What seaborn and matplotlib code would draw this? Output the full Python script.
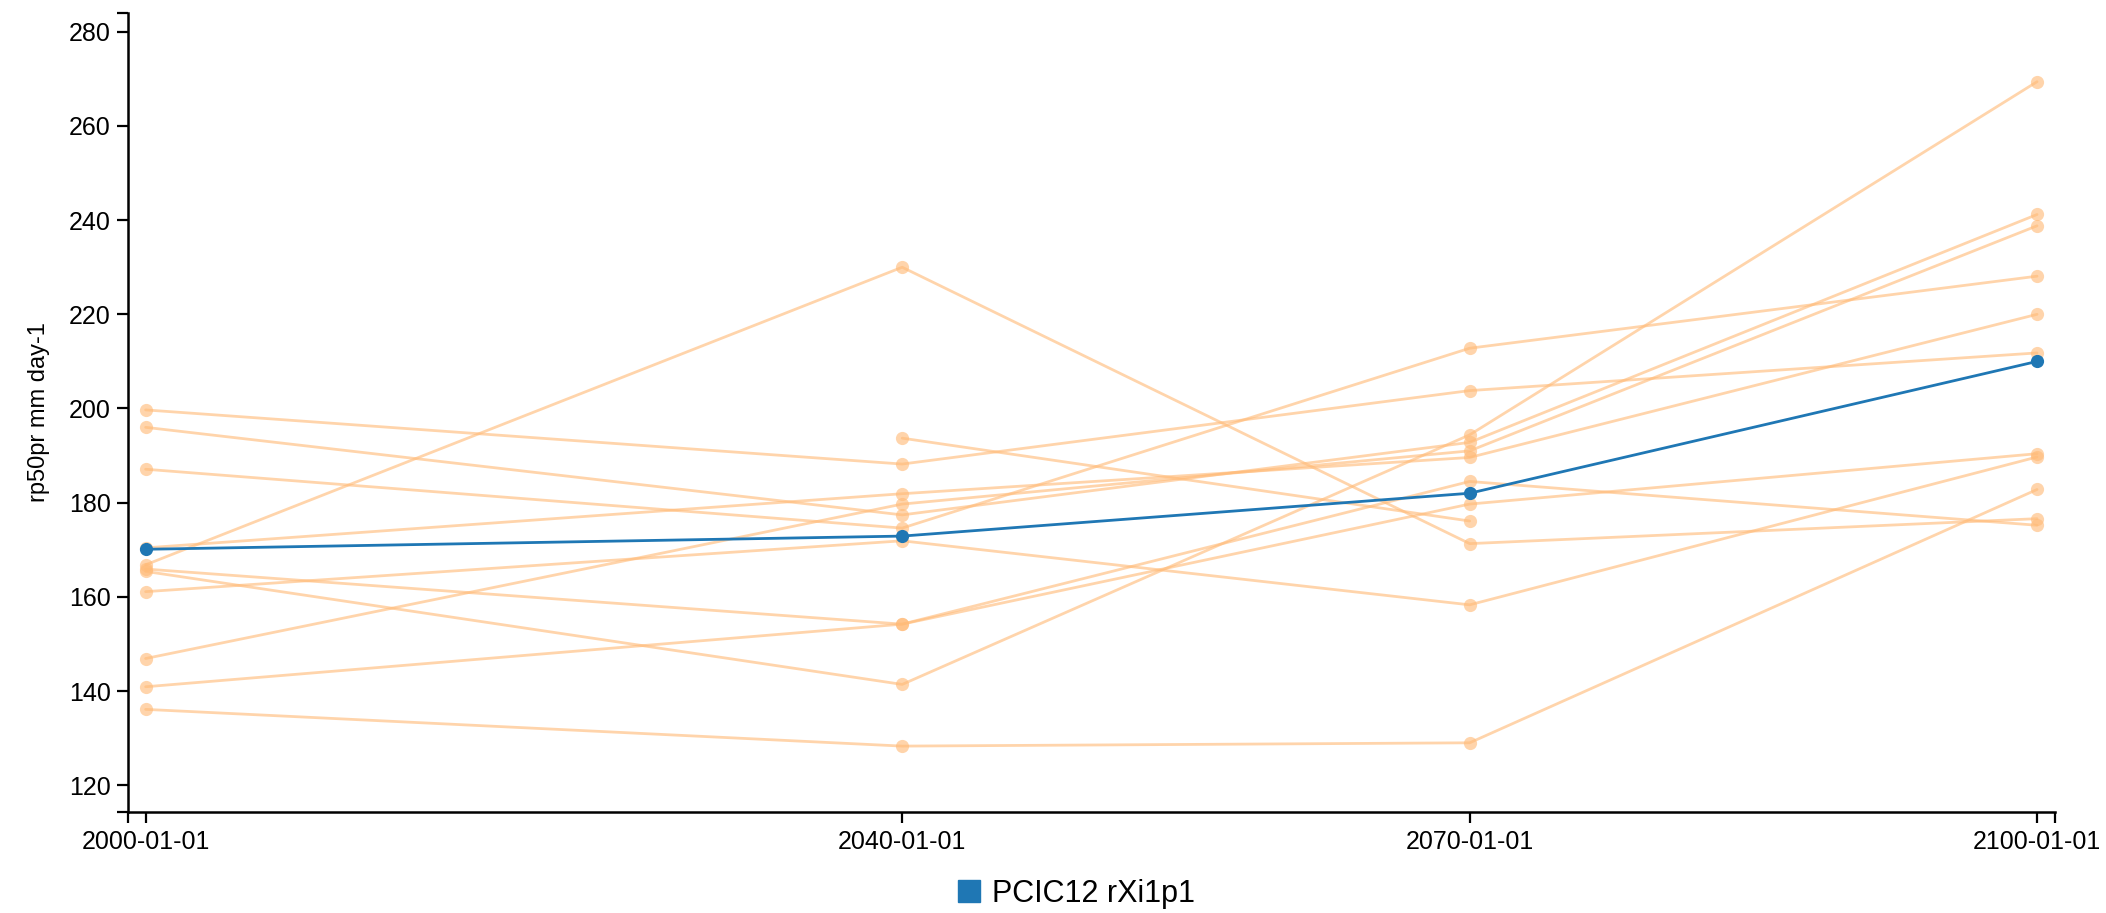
import matplotlib
matplotlib.use("Agg")
import matplotlib.pyplot as plt
from matplotlib.lines import Line2D
import numpy as np
import pandas as pd
import seaborn as sns

# Time steps of the climatology periods
dates = ["2000-01-01", "2040-01-01", "2070-01-01", "2100-01-01"]

# Highlighted run
pcic12_run = "PCIC12 rXi1p1"
pcic12_values = [170.1, 172.9, 182.0, 210.0]

# Remaining ensemble members (NaN where a run has no value)
nan = np.nan
ensemble_names = [f"run{i:02d}" for i in range(1, 13)]
run01 = [199.7, 188.2, 203.8, 211.8]
run02 = [196.0, 177.4, 192.8, 241.2]
run03 = [187.1, 174.6, 212.8, 228.1]
run04 = [170.4, 181.9, 189.6, 220.0]
run05 = [166.8, 230.0, 171.3, 176.6]
run06 = [165.9, 154.2, 184.5, 175.2]
run07 = [165.4, 141.4, 194.4, 269.4]
run08 = [161.1, 171.9, 158.3, 189.7]
run09 = [146.9, 179.7, 191.0, 238.8]
run10 = [140.9, 154.2, 179.7, 190.4]
run11 = [136.1, 128.3, 129.0, 182.8]
run12 = [nan, 193.7, 176.1, nan]
ensemble_values = [run01, run02, run03, run04, run05, run06,
                   run07, run08, run09, run10, run11, run12]

y_ticks = [120, 140, 160, 180, 200, 220, 240, 260, 280]
y_label = "rp50pr mm day-1"

BLUE = "#1f77b4"
PEACH = "#ffbb78"

sns.set_theme(style="white")
plt.rcParams["font.family"] = ["Liberation Sans", "DejaVu Sans"]
plt.rcParams["text.color"] = "black"

x = pd.to_datetime(dates)
rows = []
for name, vals in zip(ensemble_names, ensemble_values):
    for d, v in zip(x, vals):
        rows.append({"date": d, "value": v, "run": name})
ens = pd.DataFrame(rows).dropna()
main = pd.DataFrame({"date": x, "value": pcic12_values})

fig = plt.figure(figsize=(21.06, 9.13), dpi=100)
ax = fig.add_axes([0.0606, 0.1106, 0.9152, 0.8752])

sns.lineplot(data=ens, x="date", y="value", units="run", estimator=None,
             color=PEACH, alpha=0.62, linewidth=2.0, marker="o",
             markersize=9.5, markeredgewidth=0, ax=ax, legend=False)
sns.lineplot(data=main, x="date", y="value", color=BLUE, linewidth=2.0,
             marker="o", markersize=9.5, markeredgewidth=0, ax=ax,
             legend=False)

pad = pd.Timedelta(days=347)
xmin, xmax = x[0] - pad, x[-1] + pad
ax.set_xlim(xmin, xmax)
ax.set_ylim(114.3, 284)

ax.set_xticks(x)
ax.set_xticklabels(dates)
ax.set_xticks([xmin, xmax], minor=True)
ax.set_yticks(y_ticks)
ax.set_yticks([114.3, 284], minor=True)

for side in ("top", "right"):
    ax.spines[side].set_visible(False)
for side in ("left", "bottom"):
    ax.spines[side].set_color("black")
    ax.spines[side].set_linewidth(1.8)

ax.tick_params(axis="both", which="both", direction="out", length=8,
               width=1.6, color="black", labelsize=18, labelcolor="black",
               bottom=True, left=True)
ax.tick_params(axis="both", which="minor", labelbottom=False, labelleft=False)
ax.tick_params(axis="x", pad=5)
ax.tick_params(axis="y", pad=4)

ax.set_xlabel("")
ax.set_ylabel(y_label, fontsize=17, color="black", labelpad=14)
ax.grid(False)

handle = Line2D([], [], marker="s", color=BLUE, linestyle="none",
                markersize=16)
fig.legend(handles=[handle], labels=[pcic12_run], loc="center",
           bbox_to_anchor=(0.51, 0.021), frameon=False, fontsize=22,
           handletextpad=0.25, handlelength=1.0, labelcolor="black")

fig.savefig("out.png", dpi=100, facecolor="white")
